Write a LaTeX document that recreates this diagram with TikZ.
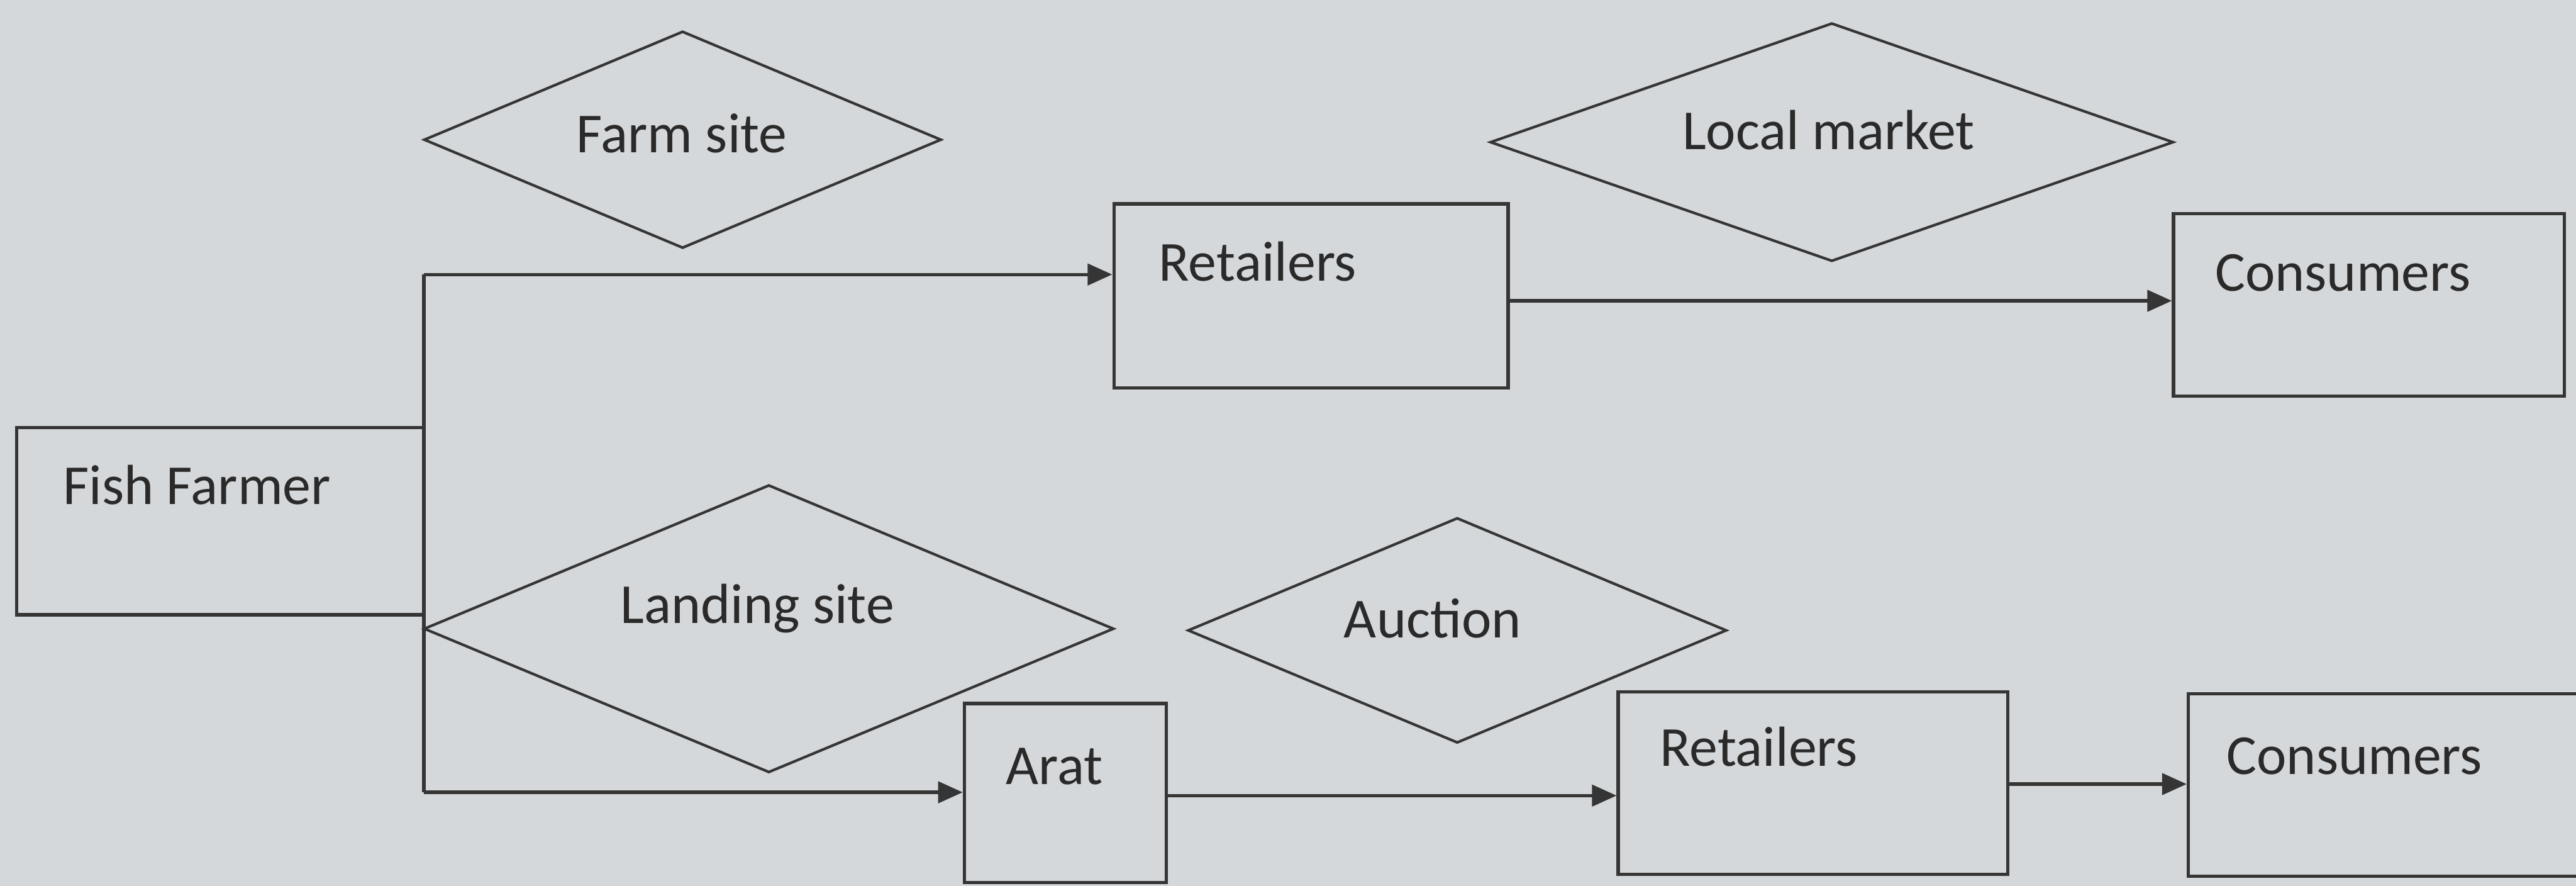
\documentclass[tikz,border=0pt]{standalone}
\usepackage{fontspec}
\setmainfont{Carlito}
\usetikzlibrary{shapes.geometric,arrows.meta}
\definecolor{bg}{HTML}{D5D8DA}
\definecolor{ink}{HTML}{353535}
\definecolor{txt}{HTML}{2A2A2A}
\begin{document}
\begin{tikzpicture}[x=0.5pt,y=-0.5pt,
  box/.style={draw=ink,line width=1pt,rectangle,inner sep=0pt},
  dia/.style={draw=ink,line width=0.8pt,diamond,inner sep=0pt},
  lbl/.style={inner sep=0pt,text=txt,font=\fontsize{17.2pt}{20pt}\selectfont},
  conn/.style={draw=ink,line width=1pt},
  arr/.style={conn,-{Triangle[length=7.5pt,width=6.5pt]}}]
\fill[bg] (0,0) rectangle (1568,539);
\useasboundingbox (0,0) rectangle (1568,539);
% boxes
\node[box,minimum width=124pt,minimum height=57pt] (ff) at (134,317) {};
\node[box,minimum width=120pt,minimum height=56pt] (ret1) at (798,180) {};
\node[box,minimum width=119pt,minimum height=55.5pt] (con1) at (1442,185.5) {};
\node[box,minimum width=61.5pt,minimum height=54.5pt] (arat) at (648.5,482.5) {};
\node[box,minimum width=118.5pt,minimum height=55.5pt] (ret2) at (1103.5,476.5) {};
\node[box,minimum width=121.5pt,minimum height=55.5pt] (con2) at (1453.5,477.5) {};
% diamonds
\node[dia,minimum width=157.5pt,minimum height=66pt] (farm) at (415.5,85) {};
\node[dia,minimum width=208pt,minimum height=72.5pt] (local) at (1115,86.5) {};
\node[dia,minimum width=210pt,minimum height=87.5pt] (landing) at (468,382.5) {};
\node[dia,minimum width=164pt,minimum height=68.5pt] (auction) at (887,383.5) {};
% labels
\node[lbl,anchor=base west] (tff) at (38,307) {Fish Farmer};
\node[lbl,anchor=base west] (tret1) at (705,171) {Retailers};
\node[lbl,anchor=base west] (tcon1) at (1348,177) {Consumers};
\node[lbl,anchor=base west] (tarat) at (612,477) {Arat};
\node[lbl,anchor=base west] (tret2) at (1010,466) {Retailers};
\node[lbl,anchor=base west] (tcon2) at (1355,471) {Consumers};
\node[lbl,anchor=base] (tfarm) at (415,93) {Farm site};
\node[lbl,anchor=base] (tlocal) at (1113,91) {Local market};
\node[lbl,anchor=base] (tlanding) at (461,379) {Landing site};
\node[lbl,anchor=base] (tauction) at (872,388) {Auction};
% connectors
\coordinate (jt) at (258,167);
\coordinate (jb) at (258,482);
\draw[conn] (jt) -- (jb);
\draw[arr] (jt) -- (ret1.west |- jt);
\draw[arr] (jb) -- (arat.west |- jb);
\draw[arr] (ret1.east |- 0,183) -- (con1.west |- 0,183);
\draw[arr] (arat.east |- 0,484) -- (ret2.west |- 0,484);
\draw[arr] (ret2.east |- 0,477) -- (con2.west |- 0,477);
\end{tikzpicture}
\end{document}
